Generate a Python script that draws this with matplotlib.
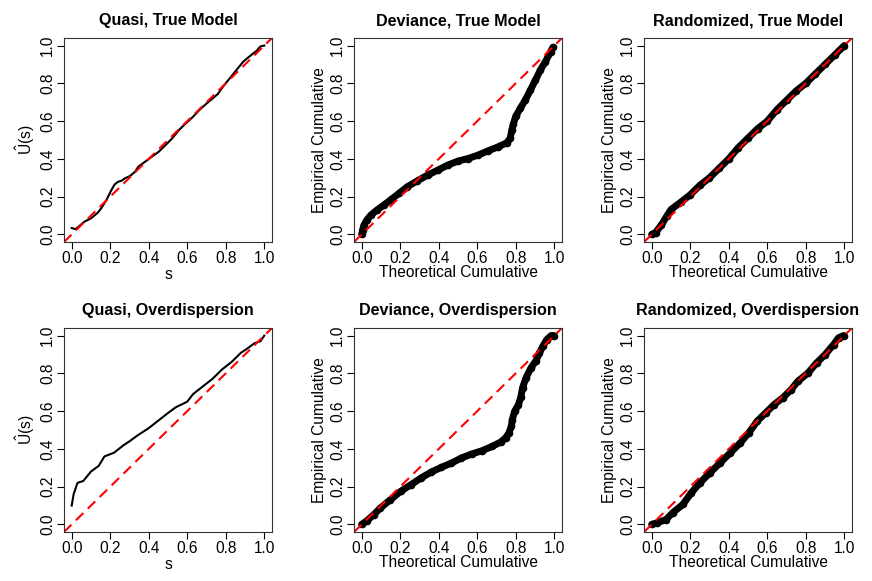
from matplotlib import pyplot as plt
import numpy as np

plt.rcParams['font.family'] = ['Liberation Sans', 'DejaVu Sans']
plt.rcParams['mathtext.fontset'] = 'custom'
plt.rcParams['mathtext.rm'] = 'Liberation Sans'
plt.rcParams['mathtext.it'] = 'Liberation Sans'

# quasi residual curves
quasi_true_s = [0.0, 0.02, 0.039, 0.065, 0.1, 0.135, 0.153, 0.18, 0.206, 0.223, 0.241, 0.258,
                0.276, 0.302, 0.329, 0.346, 0.381, 0.417, 0.452, 0.487, 0.522, 0.557, 0.592,
                0.627, 0.663, 0.698, 0.733, 0.759, 0.786, 0.821, 0.856, 0.891, 0.926, 0.961,
                0.979, 1.0]
quasi_true_u = [0.034, 0.028, 0.044, 0.067, 0.085, 0.115, 0.138, 0.182, 0.235, 0.265, 0.279, 0.284,
                0.297, 0.309, 0.332, 0.359, 0.385, 0.412, 0.438, 0.473, 0.509, 0.553, 0.588,
                0.62, 0.659, 0.691, 0.721, 0.744, 0.783, 0.827, 0.871, 0.915, 0.945, 0.973,
                0.995, 1.0]

quasi_over_s = [0.0, 0.01, 0.03, 0.06, 0.1, 0.14, 0.17, 0.22, 0.27, 0.3, 0.34, 0.4, 0.45, 0.5,
                0.54, 0.6, 0.63, 0.68, 0.73, 0.78, 0.83, 0.88, 0.91, 0.95, 0.98, 1.0]
quasi_over_u = [0.1, 0.16, 0.22, 0.23, 0.28, 0.31, 0.36, 0.38, 0.42, 0.44, 0.47, 0.51, 0.55, 0.59,
                0.62, 0.65, 0.69, 0.73, 0.77, 0.82, 0.86, 0.91, 0.93, 0.96, 0.97, 1.0]

# deviance residuals
dev_true_x = [0.0, 0.005, 0.012, 0.026, 0.047, 0.079, 0.114, 0.149, 0.193, 0.236, 0.289, 0.342,
              0.394, 0.447, 0.499, 0.552, 0.604, 0.657, 0.709, 0.753, 0.771, 0.779, 0.788, 0.8,
              0.823, 0.849, 0.876, 0.902, 0.928, 0.954, 0.981, 0.993]
dev_true_y = [0.0, 0.026, 0.05, 0.076, 0.102, 0.129, 0.155, 0.182, 0.217, 0.252, 0.284, 0.314,
              0.34, 0.367, 0.388, 0.402, 0.42, 0.443, 0.464, 0.485, 0.508, 0.552, 0.587, 0.626,
              0.667, 0.711, 0.764, 0.817, 0.871, 0.915, 0.968, 0.991]

dev_over_x = [0.0, 0.026, 0.062, 0.097, 0.149, 0.202, 0.255, 0.308, 0.36, 0.413, 0.466, 0.518,
              0.571, 0.624, 0.677, 0.721, 0.747, 0.764, 0.777, 0.782, 0.794, 0.814, 0.826, 0.835,
              0.853, 0.879, 0.905, 0.923, 0.94, 0.961, 0.984, 0.996]
dev_over_y = [0.0, 0.019, 0.051, 0.087, 0.131, 0.175, 0.21, 0.246, 0.277, 0.302, 0.325, 0.352,
              0.373, 0.39, 0.413, 0.436, 0.458, 0.484, 0.519, 0.555, 0.599, 0.634, 0.673, 0.723,
              0.776, 0.829, 0.867, 0.908, 0.943, 0.979, 1.0, 1.0]

# randomized quantile residuals
rand_true_x = [0.0, 0.02, 0.05, 0.08, 0.1, 0.15, 0.2, 0.25, 0.3, 0.35, 0.4, 0.45, 0.5, 0.55,
               0.6, 0.65, 0.7, 0.75, 0.8, 0.85, 0.9, 0.95, 1.0]
rand_true_y = [0.0, 0.01, 0.05, 0.1, 0.132, 0.17, 0.21, 0.26, 0.3, 0.35, 0.4, 0.46, 0.51, 0.56,
               0.6, 0.66, 0.71, 0.76, 0.8, 0.85, 0.9, 0.95, 1.0]

rand_over_x = [0.0, 0.03, 0.074, 0.109, 0.162, 0.206, 0.25, 0.302, 0.355, 0.408, 0.46, 0.504,
               0.548, 0.592, 0.636, 0.68, 0.724, 0.759, 0.812, 0.856, 0.9, 0.944, 0.97, 0.996]
rand_over_y = [0.0, 0.009, 0.026, 0.062, 0.106, 0.168, 0.22, 0.273, 0.326, 0.379, 0.432, 0.485,
               0.547, 0.591, 0.635, 0.67, 0.714, 0.758, 0.802, 0.855, 0.899, 0.952, 0.988, 1.0]

titles = [["Quasi, True Model", "Deviance, True Model", "Randomized, True Model"],
          ["Quasi, Overdispersion", "Deviance, Overdispersion", "Randomized, Overdispersion"]]
panel_data = [[(quasi_true_s, quasi_true_u), (dev_true_x, dev_true_y), (rand_true_x, rand_true_y)],
              [(quasi_over_s, quasi_over_u), (dev_over_x, dev_over_y), (rand_over_x, rand_over_y)]]

fig = plt.figure(figsize=(8.72, 5.81), dpi=100)
lefts = [64 / 872, 354 / 872, 644 / 872]
bottoms = [1 - 242 / 581, 1 - 532 / 581]
w = 208 / 872
h = 204 / 581
ticks = [0.0, 0.2, 0.4, 0.6, 0.8, 1.0]
fs = 11.2

for r in range(2):
    for c in range(3):
        ax = fig.add_axes([lefts[c], bottoms[r], w, h])
        x, y = panel_data[r][c]
        if c == 0:
            ax.plot(x, y, color="black", linewidth=1.5)
            ax.set_xlabel("s", fontsize=fs, labelpad=1)
            ax.set_ylabel(r"$\hat{\mathrm{U}}\mathrm{(s)}$", fontsize=fs, labelpad=2)
        else:
            ax.plot(x, y, color="black", linewidth=5, solid_capstyle="round",
                    solid_joinstyle="round", marker="o", markersize=4.5,
                    markerfacecolor="black", markeredgecolor="black")
            ax.set_xlabel("Theoretical Cumulative", fontsize=fs, labelpad=-1)
            ax.set_ylabel("Empirical Cumulative", fontsize=fs, labelpad=2)
        ax.plot([-0.04, 1.04], [-0.04, 1.04], color="red", linewidth=1.5,
                linestyle=(0, (5, 3)))
        ax.set_xlim(-0.04, 1.04)
        ax.set_ylim(-0.04, 1.04)
        ax.set_xticks(ticks)
        ax.set_yticks(ticks)
        ax.set_xticklabels([f"{t:.1f}" for t in ticks], fontsize=fs)
        ax.set_yticklabels([f"{t:.1f}" for t in ticks], fontsize=fs, rotation=90,
                           va="center")
        ax.tick_params(direction="out", length=5, width=0.8, pad=1.5)
        for sp in ax.spines.values():
            sp.set_linewidth(0.8)
            sp.set_color("#333333")
        ax.set_title(titles[r][c], fontsize=11.6, fontweight="bold", pad=9)

fig.savefig("out.png", dpi=100)
